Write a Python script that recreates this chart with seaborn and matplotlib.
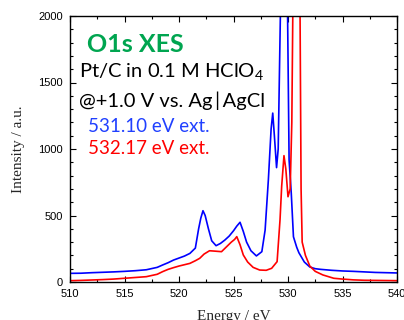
import numpy as np
import pandas as pd
import seaborn as sns
import matplotlib
matplotlib.use("Agg")
import matplotlib.pyplot as plt
from matplotlib.ticker import MultipleLocator

# Data
E_blue = [510, 511, 512, 513, 514, 515, 516, 517, 518, 518.5, 519, 519.5, 520, 520.5,
          521, 521.5, 521.8, 522.0, 522.2, 522.4, 522.7, 523.0, 523.4, 523.8, 524.2,
          524.6, 525.0, 525.3, 525.6, 525.9, 526.2, 526.6, 527.1, 527.6, 527.9, 528.2,
          528.45, 528.6, 528.75, 528.95, 529.1, 529.3, 529.6, 529.95, 530.1, 530.3,
          530.5, 530.8, 531.0, 531.5, 532.0, 532.5, 533, 534, 535, 536, 537, 538, 539, 540]
I_blue = [65, 66, 70, 73, 76, 80, 85, 92, 110, 128, 145, 165, 180, 195,
          215, 255, 400, 480, 536, 500, 400, 310, 273, 290, 315,
          345, 385, 420, 449, 380, 300, 235, 196, 228, 390, 770,
          1150, 1270, 1100, 860, 1000, 2000, 5000, 2100, 917, 667,
          340, 261, 220, 150, 113, 100, 95, 88, 83, 80, 76, 72, 70, 68]

E_red = [510, 511, 512, 513, 514, 515, 516, 517, 518, 518.5, 519, 519.5, 520, 520.5,
         521, 521.5, 521.9, 522.3, 522.8, 523.3, 523.9, 524.3, 524.8, 525.1, 525.3,
         525.6, 525.9, 526.3, 526.8, 527.4, 528.0, 528.5, 529.0, 529.27, 529.42,
         529.63, 529.8, 530.0, 530.2, 530.35, 530.45, 530.8, 531.1, 531.2, 531.3,
         531.6, 532.0, 532.5, 533.2, 534.2, 535, 536, 537, 538, 539, 540]
I_red = [10, 12, 15, 18, 22, 28, 34, 40, 58, 78, 95, 108, 120, 130,
         140, 160, 178, 210, 235, 232, 228, 260, 300, 320, 341,
         280, 203, 150, 110, 90, 88, 103, 153, 470, 720,
         950, 850, 641, 700, 1200, 2100, 5000, 2100, 700, 300,
         200, 120, 80, 53, 28, 22, 16, 13, 12, 11, 10]

x_ticks = [510, 515, 520, 525, 530, 535, 540]
y_ticks = [0, 500, 1000, 1500, 2000]

sns.set_theme(style="ticks")
plt.rcParams['font.family'] = ['Liberation Sans', 'DejaVu Sans']

fig = plt.figure(figsize=(4.04, 3.2), dpi=100)
ax = fig.add_axes([70/404, 1-282/320, (397-70)/404, (282-16)/320])

df_b = pd.DataFrame({"E": E_blue, "I": I_blue})
df_r = pd.DataFrame({"E": E_red, "I": I_red})
sns.lineplot(data=df_b, x="E", y="I", color="#0000ff", lw=1.2, ax=ax, sort=False)
sns.lineplot(data=df_r, x="E", y="I", color="#ff0000", lw=1.2, ax=ax, sort=False)

ax.set_xlim(510, 540)
ax.set_ylim(0, 2000)
ax.set_xticks(x_ticks)
ax.set_yticks(y_ticks)
ax.xaxis.set_minor_locator(MultipleLocator(2.5))
ax.yaxis.set_minor_locator(MultipleLocator(100))
ax.tick_params(which='both', direction='in', top=True, right=True, width=0.8,
               labelsize=8, colors='black')
ax.tick_params(which='major', length=4)
ax.tick_params(which='minor', length=2.5)
ax.tick_params(axis='y', pad=5)
ax.tick_params(axis='x', pad=5)
for s in ax.spines.values():
    s.set_linewidth(1.0)
    s.set_color('black')

ax.set_xlabel("Energy / eV", family='Liberation Serif', fontsize=11, labelpad=8)
ax.set_ylabel("Intensity / a.u.", family='Liberation Serif', fontsize=11, labelpad=10)

tf = ['Lato', 'DejaVu Sans']
fig.text(87/404, 1-45/320, "O1s XES", color="#00a550", fontsize=18, fontweight='bold',
         family=tf, va='center', ha='left')
fig.text(79/404, 1-72/320, r"Pt/C in 0.1 M HClO$\mathregular{_4}$", color="black",
         fontsize=14.5, family=tf, va='center', ha='left')
fig.text(79/404, 1-101/320, "@+1.0 V vs. Ag\u2009|\u2009AgCl", color="black",
         fontsize=14.5, family=tf, va='center', ha='left')
fig.text(88/404, 1-126/320, "531.10 eV ext.", color="#2040ff",
         fontsize=13.5, family=tf, va='center', ha='left')
fig.text(88/404, 1-149/320, "532.17 eV ext.", color="#ff0000",
         fontsize=13.5, family=tf, va='center', ha='left')

fig.savefig("out.png", dpi=100)
